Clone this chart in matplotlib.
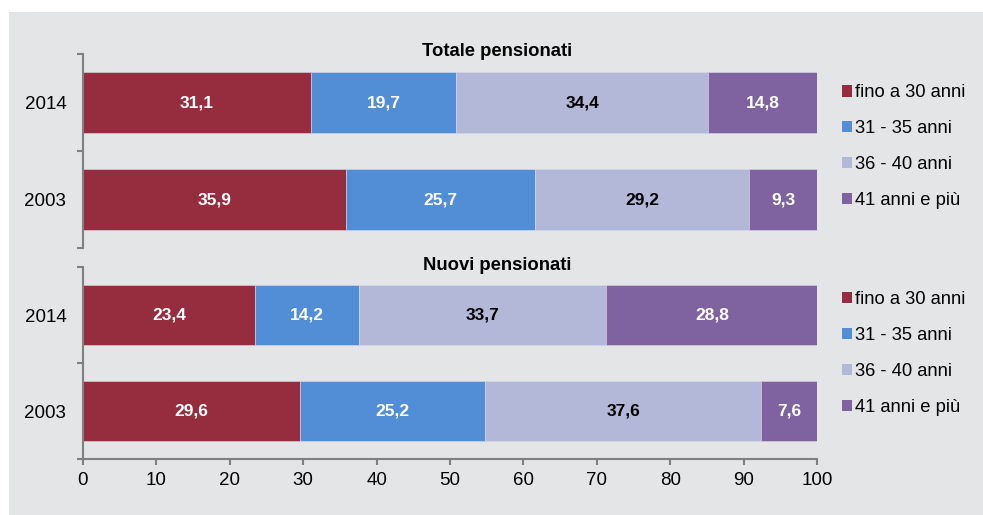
import matplotlib
matplotlib.use('Agg')
import matplotlib.pyplot as plt
from matplotlib.patches import Patch
import numpy as np

plt.rcParams['font.family'] = ['Liberation Sans', 'DejaVu Sans']

# classi di età (anni di contribuzione) e valori percentuali
classes = ['fino a 30 anni', '31 - 35 anni', '36 - 40 anni', '41 anni e più']
years = ['2014', '2003']

totale_2014 = [31.1, 19.7, 34.4, 14.8]
totale_2003 = [35.9, 25.7, 29.2, 9.3]
nuovi_2014 = [23.4, 14.2, 33.7, 28.8]
nuovi_2003 = [29.6, 25.2, 37.6, 7.6]

colors = ['#962d3e', '#528ed5', '#b3b7d8', '#7f63a1']
label_colors = ['white', 'white', 'black', 'white']
bg = '#e4e5e7'
axis_gray = '#808080'

fig = plt.figure(figsize=(9.83, 5.15), dpi=100)
fig.patch.set_facecolor('white')
fig.add_artist(plt.Rectangle((9 / 983, 0), 1 - 9 / 983, 1 - 12 / 515,
                             transform=fig.transFigure, facecolor=bg,
                             edgecolor='none', zorder=-10))

ax_top = fig.add_axes([0.0844, 0.5184, 0.7467, 0.3767])
ax_bot = fig.add_axes([0.0844, 0.1087, 0.7467, 0.3728])


def draw_panel(ax, rows, show_x):
    ax.set_facecolor('none')
    y = np.arange(len(rows))
    left = np.zeros(len(rows))
    for k in range(len(classes)):
        vals = np.array([r[k] for r in rows])
        ax.barh(y, vals, left=left, height=0.62, color=colors[k],
                edgecolor='#d8d8e6', linewidth=0.4)
        for yi, v, l in zip(y, vals, left):
            ax.text(l + v / 2, yi, f'{v:.1f}'.replace('.', ','),
                    ha='center', va='center', fontsize=12.5,
                    fontweight='bold', color=label_colors[k])
        left += vals
    ax.set_xlim(0, 100)
    ax.set_ylim(len(rows) - 0.5, -0.5)
    ax.set_yticks(y)
    ax.set_yticklabels(years, fontsize=13.5)
    ax.set_yticks(np.arange(len(rows) + 1) - 0.5, minor=True)
    ax.tick_params(axis='y', which='major', length=0, pad=12)
    ax.tick_params(axis='y', which='minor', length=4.5, width=1.5,
                   color=axis_gray, direction='out')
    for s in ['top', 'right']:
        ax.spines[s].set_visible(False)
    ax.spines['left'].set_color(axis_gray)
    ax.spines['left'].set_linewidth(1.5)
    if show_x:
        ax.spines['bottom'].set_color(axis_gray)
        ax.spines['bottom'].set_linewidth(1.5)
        ax.set_xticks(np.arange(0, 101, 10))
        ax.tick_params(axis='x', length=4.5, width=1.5, color=axis_gray,
                       labelsize=13.5, pad=5)
    else:
        ax.spines['bottom'].set_visible(False)
        ax.set_xticks([])


draw_panel(ax_top, [totale_2014, totale_2003], False)
draw_panel(ax_bot, [nuovi_2014, nuovi_2003], True)

fig.text(497 / 983, 1 - 52 / 515, 'Totale pensionati', ha='center',
         va='center', fontsize=13.3, fontweight='bold')
fig.text(497 / 983, 1 - 266 / 515, 'Nuovi pensionati', ha='center',
         va='center', fontsize=13.3, fontweight='bold')

handles = [Patch(facecolor=c, edgecolor='none') for c in colors]
for yc in (0.7155, 0.3136):
    fig.legend(handles, classes, loc='center left',
               bbox_to_anchor=(842 / 983, yc), frameon=False,
               fontsize=13.2, handlelength=0.55, handleheight=0.55,
               handletextpad=0.15, labelspacing=1.02, borderpad=0,
               borderaxespad=0)

fig.savefig('out.png', dpi=100, facecolor=fig.get_facecolor())
